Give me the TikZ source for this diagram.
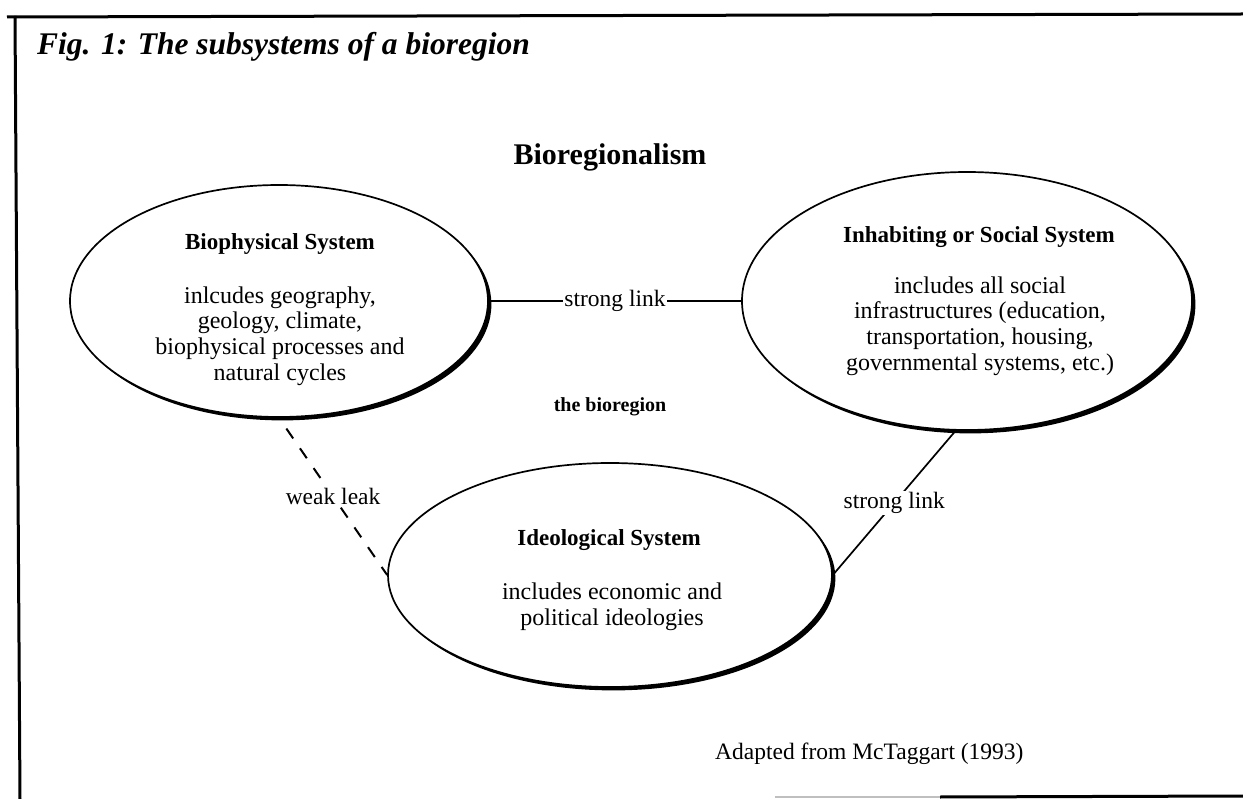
\documentclass[tikz,border=0pt]{standalone}
\usepackage{fontspec}
\setmainfont{Liberation Serif}
\usetikzlibrary{shapes.geometric,shadows}
\begin{document}
\begin{tikzpicture}[x=1pt,y=-1pt,
  system/.style={ellipse, draw=black, line width=1.7pt, fill=white, inner sep=0pt,
    drop shadow={shadow xshift=3.4pt, shadow yshift=-3.4pt, fill=black, opacity=1}},
  body/.style={align=center, font=\fontsize{24}{25.6}\selectfont, inner sep=0pt},
  head/.style={font=\fontsize{23}{26}\selectfont\bfseries, inner sep=0pt, anchor=base},
  link/.style={line width=1.7pt},
  leak/.style={line width=2pt, dash pattern=on 12pt off 12pt, shorten <=13pt},
  lbl/.style={fill=white, font=\fontsize{23.5}{26}\selectfont, inner sep=1pt},
]
% page
\fill[white] (0,0) rectangle (1243,799);
\useasboundingbox (0,0) rectangle (1243,799);

% frame
\draw[line width=3pt] (7,17) -- (1243,14);
\draw[line width=3pt] (15,16) -- (20,799);
\draw[line width=2.5pt, black!25] (775,797) -- (940,797);
\draw[line width=3pt] (940,797) -- (1243,796);

% headings
\node[anchor=base west, inner sep=0pt, font=\fontsize{31.5}{34}\selectfont\bfseries\itshape]
  (title) at (37,55) {Fig. 1: The subsystems of a bioregion};
\node[anchor=base, inner sep=0pt, font=\fontsize{30}{32}\selectfont\bfseries]
  (main) at (610,165) {Bioregionalism};

% the three subsystems
\node[system, minimum width=418pt, minimum height=232pt] (bio) at (279,301) {};
\node[system, minimum width=450pt, minimum height=258pt] (inh) at (967,301) {};
\node[system, minimum width=444pt, minimum height=224pt] (ideo) at (610,575) {};

\node[head] (bioh) at (280,250) {Biophysical System};
\node[body] (biob) at (280,336) {inlcudes geography,\\geology, climate,\\biophysical processes and\\natural cycles};

\node[head] (inhh) at (979,243) {Inhabiting or Social System};
\node[body] (inhb) at (980,326) {includes all social\\infrastructures (education,\\transportation, housing,\\governmental systems, etc.)};

\node[head] (ideoh) at (609,545) {Ideological System};
\node[body] (ideob) at (612,607) {includes economic and\\political ideologies};

\node[anchor=base, inner sep=0pt, font=\fontsize{20}{24}\selectfont\bfseries]
  (region) at (610,412) {the bioregion};

% links between the subsystems
\draw[link] (bio.east) -- node[lbl] (l1) {strong link} (inh.west);
\draw[leak] (bio.south) -- node[lbl] (l2) {weak leak} (ideo.west);
\draw[link] (inh.265) -- node[lbl] (l3) {strong link} (ideo.east);

% source
\node[anchor=base west, inner sep=0pt, font=\fontsize{23.5}{26}\selectfont]
  (src) at (715,759) {Adapted from McTaggart (1993)};
\end{tikzpicture}
\end{document}
